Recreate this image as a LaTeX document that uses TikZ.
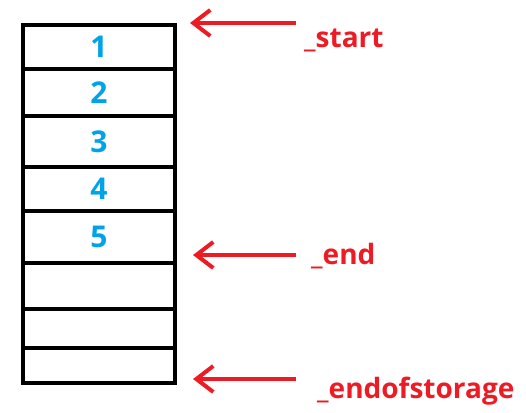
\documentclass[tikz,border=0pt]{standalone}
\usepackage{fontspec}
\setmainfont{Open Sans}
\usetikzlibrary{arrows.meta,positioning}
\definecolor{cellblue}{HTML}{00A2E8}
\definecolor{ptrred}{HTML}{ED1C24}
\tikzset{
  cell/.style={draw=black, line width=3.3pt, minimum width=152pt, inner sep=0pt,
               outer sep=0pt, text=cellblue, font=\fontsize{30}{31}\selectfont\bfseries},
  ptrlbl/.style={anchor=base west, inner sep=0pt, text=ptrred,
                 font=\fontsize{28}{30}\selectfont\bfseries},
  ptrarr/.style={-{Straight Barb[length=17pt, width=26pt]}, line width=4pt, color=ptrred}}

\begin{document}
\begin{tikzpicture}[x=1pt, y=-1pt]
    \useasboundingbox (0,0) rectangle (526,412);
    % the vector's storage, one cell per slot
    \node[cell, minimum height=44pt] (c1) at (99,47) {1};
    \node[cell, minimum height=47pt] (c2) at (99,92.5) {2};
    \node[cell, minimum height=51pt] (c3) at (99,141.5) {3};
    \node[cell, minimum height=44pt] (c4) at (99,189) {4};
    \node[cell, minimum height=52pt] (c5) at (99,237) {5};
    \node[cell, minimum height=46pt] (c6) at (99,286) {};
    \node[cell, minimum height=39pt] (c7) at (99,328.5) {};
    \node[cell, minimum height=35pt] (c8) at (99,365.5) {};
    % pointers
    \node[ptrlbl] (lstart) at (304,47) {\_start};
    \node[ptrlbl] (lend) at (311,264) {\_end};
    \node[ptrlbl] (lstore) at (317,398) {\_endofstorage};
    \coordinate (pstart) at (296,23);
    \coordinate (pend) at (296,255);
    \coordinate (pstore) at (296,379);
    \coordinate (tstart) at (190,23);
    \coordinate (tend) at (193,255);
    \coordinate (tstore) at (193,379);
    \draw[ptrarr] (pstart) -- (tstart);
    \draw[ptrarr] (pend) -- (tend);
    \draw[ptrarr] (pstore) -- (tstore);
  \end{tikzpicture}
\end{document}
